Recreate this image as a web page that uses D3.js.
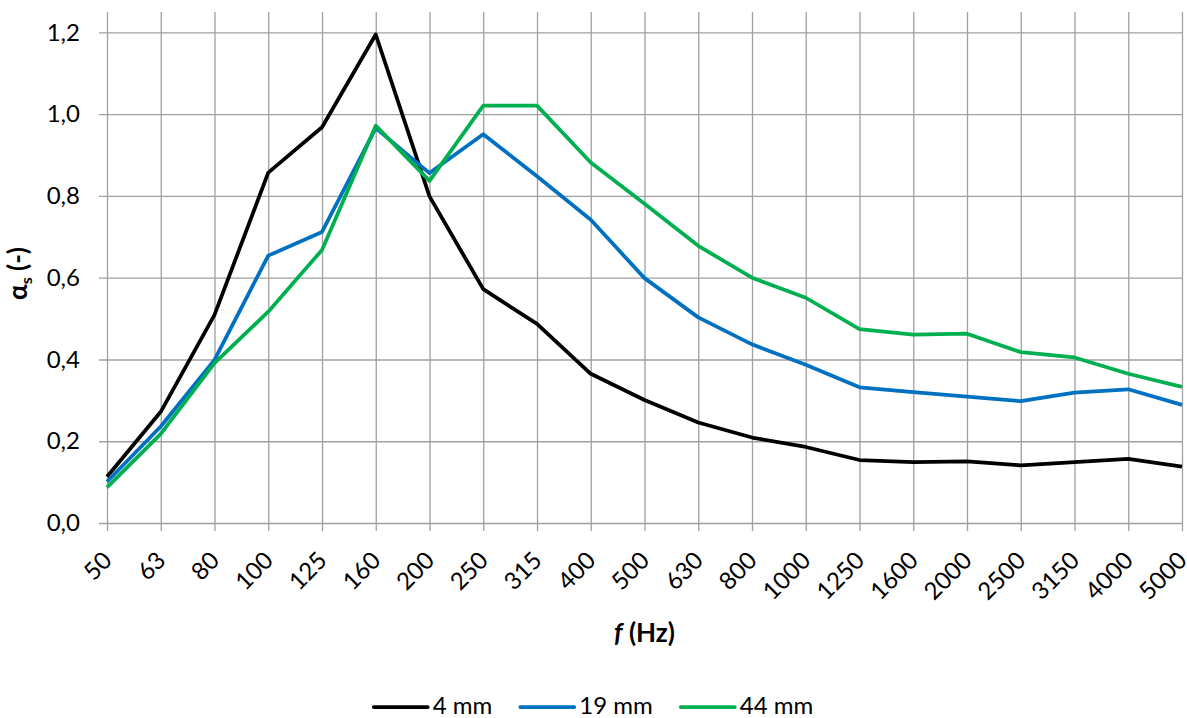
<!DOCTYPE html>
<html>
<head>
<meta charset="utf-8">
<script src="https://cdn.jsdelivr.net/npm/d3@7"></script>
<style>
  body { margin: 0; background: #fff; }
  svg { display: block; font-family: Lato, "Open Sans", sans-serif; }
</style>
</head>
<body>
<svg id="chart" width="1187" height="718"></svg>
<script>
const frequencies = ["50", "63", "80", "100", "125", "160", "200", "250", "315", "400", "500",
    "630", "800", "1000", "1250", "1600", "2000", "2500", "3150", "4000", "5000"];

const alpha4mm = [0.113, 0.272, 0.509, 0.857, 0.968, 1.195, 0.799, 0.572, 0.487, 0.365, 0.301,
    0.246, 0.209, 0.186, 0.154, 0.149, 0.151, 0.141, 0.149, 0.157, 0.138];
const alpha19mm = [0.101, 0.236, 0.399, 0.654, 0.712, 0.966, 0.856, 0.951, 0.848, 0.742, 0.599,
    0.503, 0.437, 0.387, 0.332, 0.320, 0.309, 0.298, 0.319, 0.327, 0.289];
const alpha44mm = [0.087, 0.218, 0.391, 0.517, 0.668, 0.972, 0.837, 1.021, 1.021, 0.882, 0.781,
    0.678, 0.600, 0.551, 0.474, 0.461, 0.463, 0.418, 0.405, 0.365, 0.333];

const seriesNames = ["4 mm", "19 mm", "44 mm"];
const seriesColors = ["#000000", "#0070c0", "#00b050"];
const yTicks = [0, 0.2, 0.4, 0.6, 0.8, 1.0, 1.2];

const gridColor = "#a0a0a0";
const plot = { left: 107, right: 1182, top: 12, bottom: 523 };
const TICK_LEN = 8;

const svg = d3.select("#chart");

const x = d3.scalePoint().domain(frequencies).range([plot.left, plot.right]).padding(0);
const y = d3.scaleLinear().domain([0, 1.25]).range([plot.bottom, plot.top]);

// horizontal gridlines + y labels
const yAxis = svg.append("g")
    .attr("transform", `translate(${ plot.left - TICK_LEN },0)`)
    .call(d3.axisLeft(y)
        .tickValues(yTicks)
        .tickSize(-(plot.right - plot.left + TICK_LEN))
        .tickPadding(19)
        .tickFormat(d => d3.format(".1f")(d).replace(".", ",")));
yAxis.select(".domain").remove();
yAxis.selectAll("line").attr("stroke", gridColor).attr("stroke-width", 1.3);
yAxis.selectAll("text").attr("font-size", "24px").attr("fill", "#000").attr("font-family", "Lato");

// vertical gridlines + x labels
const xAxis = svg.append("g")
    .attr("transform", `translate(0,${ plot.bottom + TICK_LEN })`)
    .call(d3.axisBottom(x)
        .tickSize(-(plot.bottom - plot.top + TICK_LEN)));
xAxis.select(".domain").remove();
xAxis.selectAll("line").attr("stroke", gridColor).attr("stroke-width", 1.3);
xAxis.selectAll("text")
    .attr("font-size", "24px")
    .attr("fill", "#000")
    .attr("font-family", "Lato")
    .attr("text-anchor", "end")
    .attr("y", 0)
    .attr("dy", "0.35em")
    .attr("transform", "translate(0,25) rotate(-45)");

// series lines
const allSeries = [alpha4mm, alpha19mm, alpha44mm];
const line = d3.line()
    .x((d, i) => x(frequencies[i]))
    .y(d => y(d));

svg.append("g")
    .selectAll("path")
    .data(allSeries)
    .enter()
    .append("path")
    .attr("d", d => line(d))
    .attr("fill", "none")
    .attr("stroke", (d, i) => seriesColors[i])
    .attr("stroke-width", 3.75)
    .attr("stroke-linejoin", "round");

// axis titles
const yTitle = svg.append("text")
    .attr("transform", `translate(27,${ (plot.top + plot.bottom) / 2 + 6 }) rotate(-90)`)
    .attr("text-anchor", "middle")
    .attr("font-size", "26px")
    .attr("font-weight", "bold");
yTitle.append("tspan").text("α");
yTitle.append("tspan").text("s").attr("font-size", "16px").attr("dy", "5");
yTitle.append("tspan").text(" (-)").attr("dy", "-5");

const xTitle = svg.append("text")
    .attr("x", (plot.left + plot.right) / 2)
    .attr("y", 642)
    .attr("text-anchor", "middle")
    .attr("font-size", "26px")
    .attr("font-weight", "bold");
xTitle.append("tspan").text("f").attr("font-style", "italic");
xTitle.append("tspan").text(" (Hz)");

// legend, centered on the chart width
const legend = svg.append("g");
const LINE_LEN = 54, GAP = 5, SPACING = 28;
let cursor = 0;
seriesNames.forEach((name, i) => {
    const item = legend.append("g").attr("transform", `translate(${ cursor },0)`);
    item.append("line")
        .attr("x1", 0).attr("x2", LINE_LEN)
        .attr("y1", 0).attr("y2", 0)
        .attr("stroke", seriesColors[i])
        .attr("stroke-width", 3.75)
        .attr("stroke-linecap", "round");
    const label = item.append("text")
        .attr("x", LINE_LEN + GAP)
        .attr("dy", "0.3em")
        .attr("font-size", "24px")
        .text(name);
    cursor += LINE_LEN + GAP + label.node().getComputedTextLength() + SPACING;
});
const legendWidth = cursor - SPACING;
legend.attr("transform", `translate(${ 1187 / 2 - legendWidth / 2 },707)`);
</script>
</body>
</html>
